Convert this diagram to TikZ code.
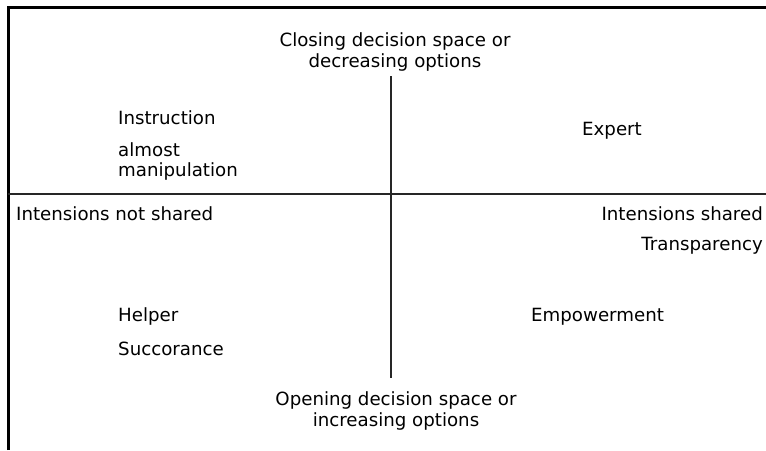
\documentclass[tikz,border=0pt]{standalone}
\usepackage{fontspec}
\setmainfont{DejaVu Sans}
\begin{document}
\begin{tikzpicture}[x=1pt,y=-1pt,
  lbl/.style={inner sep=0pt,font=\fontsize{18.2}{21}\selectfont},
  ctr/.style={lbl,align=center},
  border/.style={line width=3pt},
  axis/.style={line width=2.2pt,draw=black!85}]
\useasboundingbox (0,0) rectangle (766,450);
\fill[white] (0,0) rectangle (766,450);
\coordinate (bl) at (8,450);
\coordinate (tl) at (8,7);
\coordinate (tr) at (766,7);
\draw[border] (bl) -- (tl) -- (tr);
\coordinate (hl) at (8,194);
\coordinate (hr) at (766,194);
\coordinate (vt) at (391,76);
\coordinate (vb) at (391,378);
\draw[axis] (hl) -- (hr);
\draw[axis] (vt) -- (vb);
\node[ctr] (top) at (395,51.5) {Closing decision space or\\decreasing options};
\node[ctr] (bot) at (396,410.5) {Opening decision space or\\increasing options};
\node[lbl,anchor=west] (instr) at (118,117.5) {Instruction};
\node[lbl,anchor=west] (almost) at (118,149.5) {almost};
\node[lbl,anchor=west] (manip) at (118,171.5) {manipulation};
\node[lbl,anchor=west] (expert) at (582,130.5) {Expert};
\node[lbl,anchor=west] (ins) at (16,213.5) {Intensions not shared};
\node[lbl,anchor=east] (is) at (763,213.5) {Intensions shared};
\node[lbl,anchor=east] (trans) at (763,245.5) {Transparency};
\node[lbl,anchor=west] (helper) at (118,316.5) {Helper};
\node[lbl,anchor=west] (succ) at (118,348.5) {Succorance};
\node[lbl,anchor=west] (emp) at (531,316.5) {Empowerment};
\end{tikzpicture}
\end{document}
